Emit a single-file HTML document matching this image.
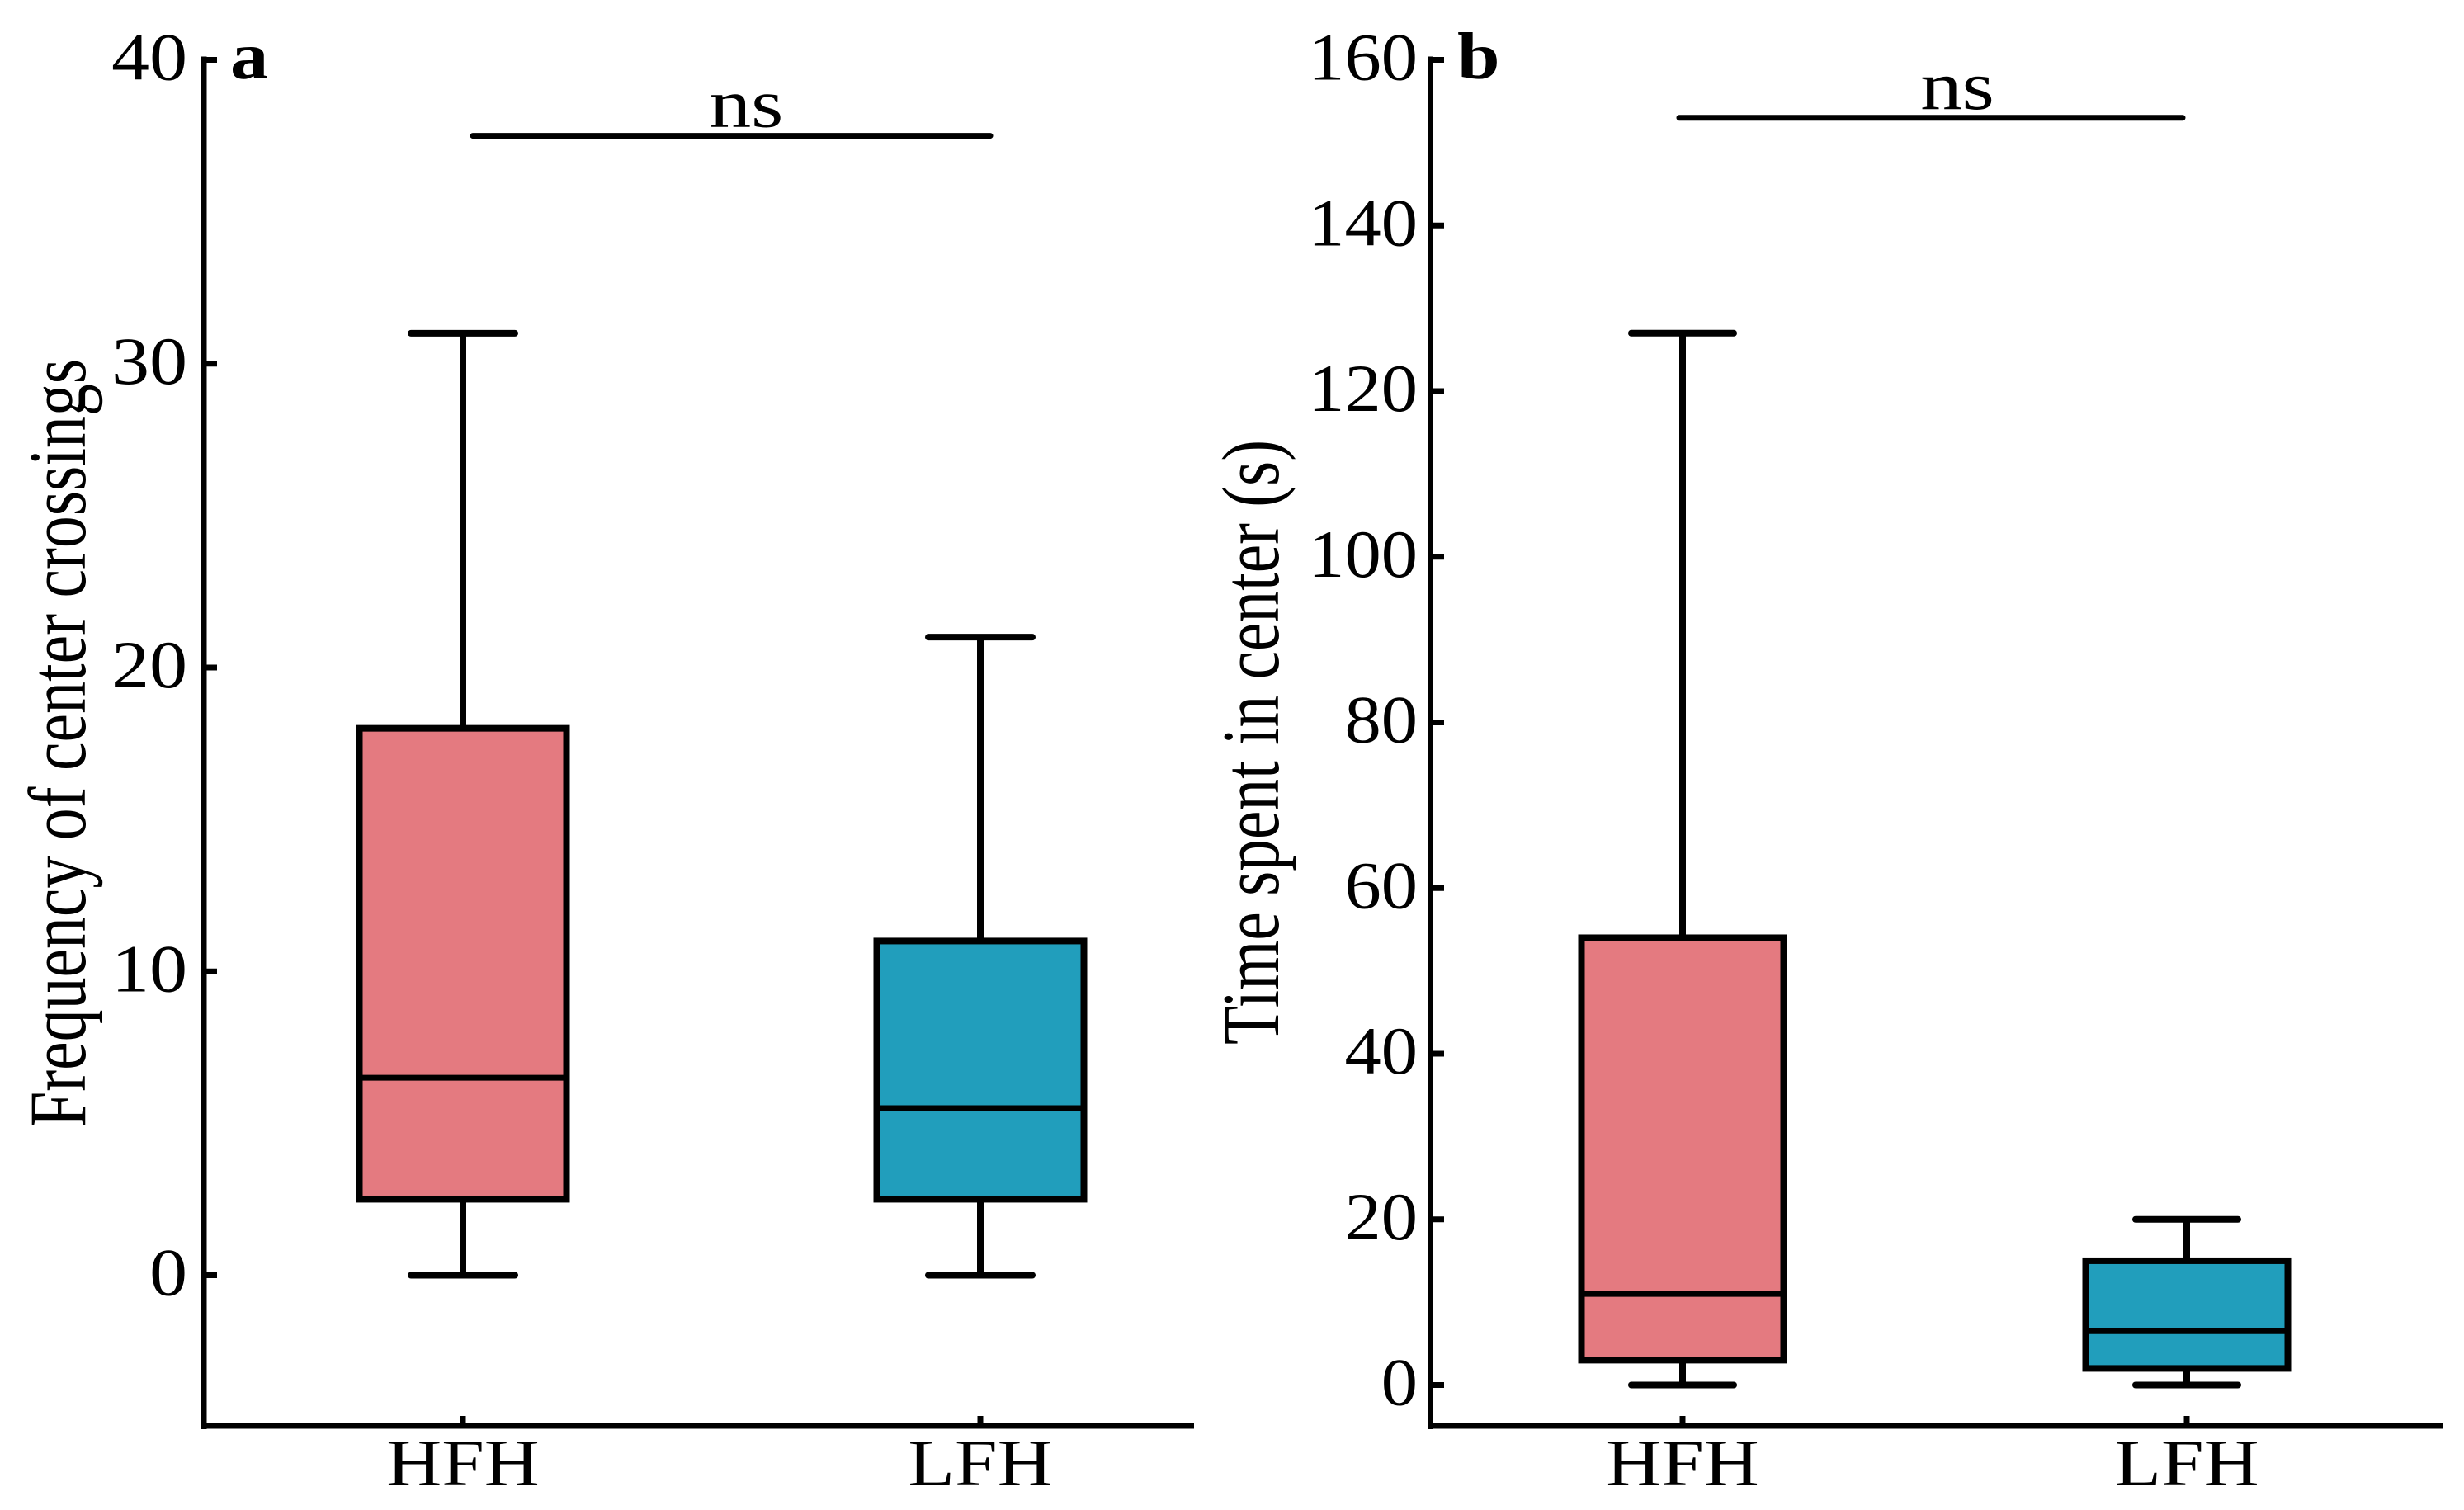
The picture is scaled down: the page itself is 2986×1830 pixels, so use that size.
<!DOCTYPE html>
<html lang="en">
<head>
<meta charset="utf-8">
<title>Center crossings and time spent in center</title>
<style>
html,body{margin:0;padding:0;background:#fff;width:2986px;height:1830px;overflow:hidden}
svg{display:block}
text{font-family:"Liberation Serif",serif;fill:#000}
</style>
</head>
<body>
<svg id="chart" xmlns="http://www.w3.org/2000/svg" width="2986" height="1830" viewBox="0 0 2986 1830"></svg>
<script>
// Data
const categories = ['HFH', 'LFH'];
const aTicks = [0, 10, 20, 30, 40];
const aMin = [0, 0];
const aQ1 = [2.5, 2.5];
const aMedian = [6.5, 5.5];
const aQ3 = [18, 11];
const aMax = [31, 21];
const bTicks = [0, 20, 40, 60, 80, 100, 120, 140, 160];
const bMin = [0, 0];
const bQ1 = [3, 2];
const bMedian = [11, 6.5];
const bQ3 = [54, 15];
const bMax = [127, 20];
const aSignificance = 37.5;
const bSignificance = 153;

const svg = document.getElementById('chart');
const NS = 'http://www.w3.org/2000/svg';

function mk(parent, tag, attrs) {
  const e = document.createElementNS(NS, tag);
  for (const k in attrs) e.setAttribute(k, attrs[k]);
  parent.appendChild(e);
  return e;
}
function stretched(parent, x, y, str, anchor, weight, rotate, font, sx) {
  const t = mk(parent, 'text', {
    transform: 'translate(' + x + ',' + y + ') scale(' + sx + ',1)' + (rotate ? ' rotate(-90)' : ''),
    'text-anchor': anchor,
    'font-size': font,
    'font-weight': weight
  });
  t.textContent = str;
  return t;
}

function drawPanel(p) {
  const g = mk(svg, 'g', {});
  
  
  const y = v => p.y0 + (p.yTop - p.y0) * v / p.tickMax;
  const x = i => p.xc[i];

  const spineY = mk(g, 'line', {x1: p.axisX, x2: p.axisX, y1: y(p.tickMax) - 4, y2: p.axisY + 4, stroke: '#000', 'stroke-width': p.spine});
  
  
  const spineX = mk(g, 'line', {x1: p.axisX - p.spine / 2, x2: p.axisEnd, y1: p.axisY, y2: p.axisY, stroke: '#000', 'stroke-width': 7});
  
  

  p.ticks.forEach(v => {
    const tk = mk(g, 'line', {x1: p.axisX, x2: p.axisX + 16, y1: y(v), y2: y(v), stroke: '#000', 'stroke-width': 7});
    
    
    const lb = stretched(g, p.axisX - p.labelGap, y(v) + 24, String(v), 'end', 'normal', false, 82, p.tickSx);
    
    
  });

  categories.forEach((c, i) => {
    const hw = p.boxW / 2, cw = p.capW / 2, cx = x(i);
    const box = mk(g, 'g', {});
    
    
    mk(box, 'line', {x1: cx, x2: cx, y1: y(p.max[i]), y2: y(p.min[i]), stroke: '#000', 'stroke-width': 8});
    mk(box, 'line', {x1: cx - cw, x2: cx + cw, y1: y(p.max[i]), y2: y(p.max[i]), stroke: '#000', 'stroke-width': 8, 'stroke-linecap': 'round'});
    mk(box, 'line', {x1: cx - cw, x2: cx + cw, y1: y(p.min[i]), y2: y(p.min[i]), stroke: '#000', 'stroke-width': 8, 'stroke-linecap': 'round'});
    mk(box, 'rect', {x: cx - hw, y: y(p.q3[i]), width: hw * 2, height: y(p.q1[i]) - y(p.q3[i]), fill: p.colors[i], stroke: '#000', 'stroke-width': 8});
    mk(box, 'line', {x1: cx - hw, x2: cx + hw, y1: y(p.median[i]), y2: y(p.median[i]), stroke: '#000', 'stroke-width': 7});

    const xt = mk(g, 'line', {x1: cx, x2: cx, y1: p.axisY - 12, y2: p.axisY, stroke: '#000', 'stroke-width': 7});
    
    
    const xl = stretched(g, cx, p.xLabelY, c, 'middle', 'normal', false, 80, 1.16);
    
    
  });

  const sig = mk(g, 'line', {x1: p.sigX[0], x2: p.sigX[1], y1: y(p.sig), y2: y(p.sig), stroke: '#000', 'stroke-width': 7, 'stroke-linecap': 'round'});
  
  
  const ns = stretched(g, (p.sigX[0] + p.sigX[1]) / 2 + p.nsDx, y(p.sig) - 11, 'ns', 'middle', 'normal', false, 84, 1.2);
  
  

  const letter = stretched(g, p.axisX + 32, 95, p.id, 'start', 'bold', false, 80, 1.16);
  
  

  const title = stretched(g, p.titleX, p.titleY, p.title, 'start', 'normal', true, 78, 1.27);
  
  
  title.setAttribute('textLength', p.titleLen);
  title.setAttribute('lengthAdjust', 'spacingAndGlyphs');
}

drawPanel({
  id: 'a', title: 'Frequency of center crossings',
  ticks: aTicks, tickMax: 40, min: aMin, q1: aQ1, median: aMedian, q3: aQ3, max: aMax, sig: aSignificance,
  axisX: 247, axisEnd: 1447, axisY: 1728, y0: 1545.5, yTop: 72.5, spine: 7,
  xc: [561, 1188], boxW: 251, capW: 126, colors: ['#E47A80', '#219EBC'],
  sigX: [573, 1200], nsDx: 18, xLabelY: 1800, titleX: 103, titleY: 1366, titleLen: 931,
  tickSx: 1.12, labelGap: 20
});
drawPanel({
  id: 'b', title: 'Time spent in center (s)',
  ticks: bTicks, tickMax: 160, min: bMin, q1: bQ1, median: bMedian, q3: bQ3, max: bMax, sig: bSignificance,
  axisX: 1734, axisEnd: 2960, axisY: 1728, y0: 1678.5, yTop: 72.5, spine: 6,
  xc: [2039, 2650], boxW: 245, capW: 124, colors: ['#E47A80', '#219EBC'],
  sigX: [2035, 2645], nsDx: 32, xLabelY: 1800, titleX: 1549, titleY: 1266, titleLen: 733,
  tickSx: 1.08, labelGap: 16
});
</script>
</body>
</html>
